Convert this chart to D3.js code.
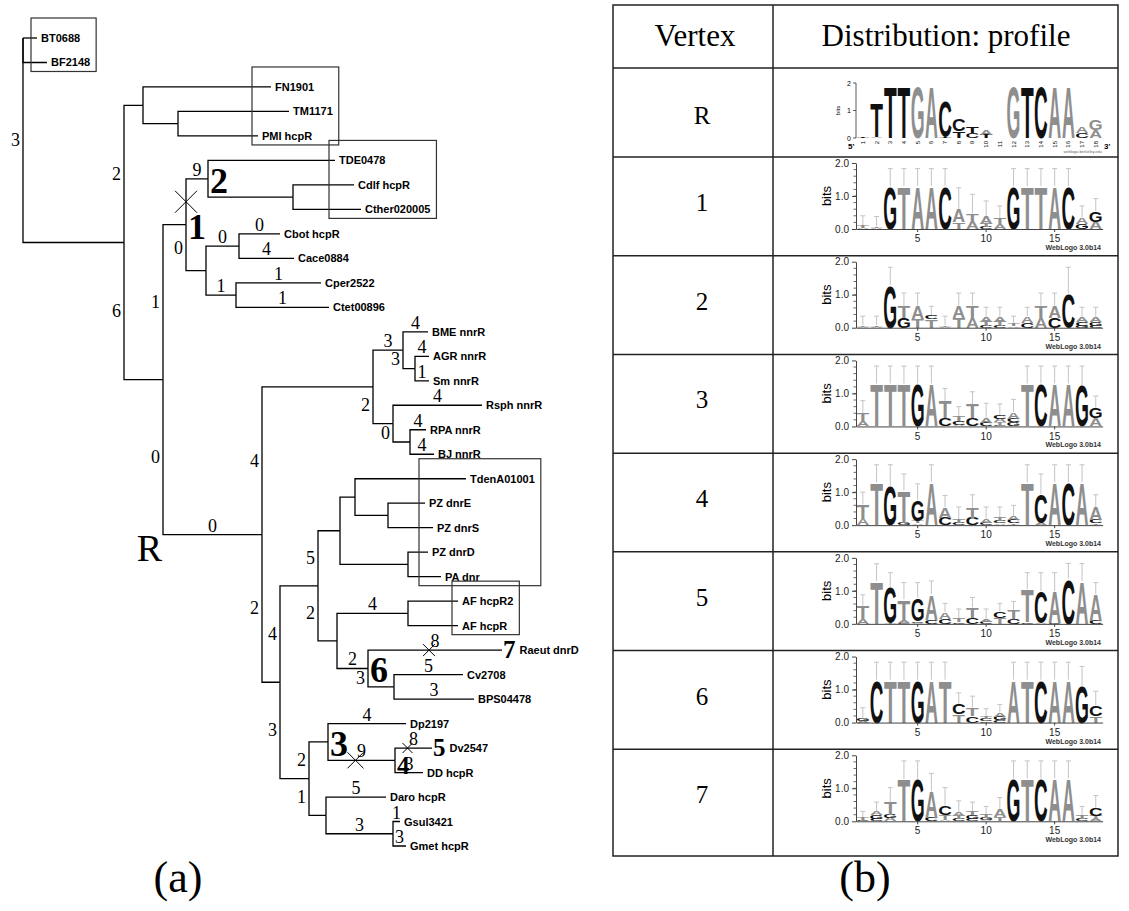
<!DOCTYPE html>
<html>
<head>
<meta charset="utf-8">
<script src="https://cdn.jsdelivr.net/npm/d3@7"></script>
<style>
  body { margin: 0; background: #fff; }
</style>
</head>
<body>
<svg id="fig" width="1129" height="911"></svg>
<script>
// ---------- tree data: [id, parent, branch length] ----------
var treeNodes = [
  ["root", null, 0],
  ["BT0688", "root", 3.5],
  ["BF2148", "root", 6],
  ["A", "root", 25.25],
  ["FNc", "A", 4.75],
  ["FN1901", "FNc", 32],
  ["TMc", "FNc", 8.75],
  ["TM1171", "TMc", 27.75],
  ["PMI hcpR", "TMc", 20],
  ["Rn", "A", 9.75],
  ["N1", "Rn", 5.75],
  ["N2", "N1", 5.5],
  ["TDE0478", "N2", 31.75],
  ["CdCt", "N2", 21.25],
  ["Cdlf hcpR", "CdCt", 15.25],
  ["Cther020005", "CdCt", 17],
  ["CC", "N1", 5],
  ["CbCa", "CC", 8.25],
  ["Cbot hcpR", "CbCa", 10.25],
  ["Cace0884", "CbCa", 13.75],
  ["CpCt", "CC", 7.5],
  ["Cper2522", "CpCt", 21.25],
  ["Ctet00896", "CpCt", 23.25],
  ["L", "Rn", 24.75],
  ["NN", "L", 27.75],
  ["BAS", "NN", 7.5],
  ["BME nnrR", "BAS", 6.25],
  ["AS", "BAS", 3],
  ["AGR nnrR", "AS", 3.5],
  ["Sm nnrR", "AS", 3.5],
  ["RRB", "NN", 5],
  ["Rsph nnrR", "RRB", 22.25],
  ["RB", "RRB", 4.25],
  ["RPA nnrR", "RB", 4],
  ["BJ nnrR", "RB", 6],
  ["M", "L", 4.5],
  ["D", "M", 9.5],
  ["Dn", "D", 5.5],
  ["Td", "Dn", 3.75],
  ["TdenA01001", "Td", 27.75],
  ["PZes", "Td", 8.25],
  ["PZ dnrE", "PZes", 9.25],
  ["PZ dnrS", "PZes", 11.25],
  ["PD", "Dn", 17],
  ["PZ dnrD", "PD", 5],
  ["PA dnr", "PD", 8.25],
  ["AFC6", "D", 4.75],
  ["AF", "AFC6", 17.75],
  ["AF hcpR2", "AF", 12.5],
  ["AF hcpR", "AF", 12.5],
  ["N6", "AFC6", 7.75],
  ["Raeut dnrD", "N6", 33.5],
  ["CB", "N6", 6.5],
  ["Cv2708", "CB", 17.25],
  ["BPS04478", "CB", 20],
  ["P", "M", 7.25],
  ["N3", "P", 4.75],
  ["Dp2197", "N3", 19.5],
  ["N4", "N3", 16.75],
  ["Dv2547", "N4", 9.25],
  ["DD hcpR", "N4", 7],
  ["DG", "P", 4.25],
  ["Daro hcpR", "DG", 15],
  ["GG", "DG", 16.75],
  ["Gsul3421", "GG", 1.75],
  ["Gmet hcpR", "GG", 3.25]
];

// labels on edges: [child id, "v" = on parent's vertical, "h" = above child's horizontal, text]
var edgeLabels = [
  ["A", "v", "3"], ["FNc", "v", "2"], ["Rn", "v", "6"], ["N1", "v", "1"],
  ["L", "v", "0"], ["L", "h", "0"], ["N2", "h", "9"], ["CC", "v", "0"],
  ["CbCa", "h", "0"], ["CpCt", "h", "1"], ["Cbot hcpR", "h", "0"], ["Cace0884", "h", "4"],
  ["Cper2522", "h", "1"], ["Ctet00896", "h", "1"], ["NN", "v", "4"], ["BAS", "h", "3"],
  ["BME nnrR", "h", "4"], ["AS", "v", "3"], ["AGR nnrR", "h", "4"], ["Sm nnrR", "h", "1"],
  ["RRB", "v", "2"], ["Rsph nnrR", "h", "4"], ["RB", "v", "0"], ["RPA nnrR", "h", "4"],
  ["BJ nnrR", "h", "4"], ["M", "v", "2"], ["D", "v", "4"], ["P", "v", "3"],
  ["Dn", "v", "5"], ["AFC6", "v", "2"], ["AF", "h", "4"], ["N6", "h", "2"],
  ["Raeut dnrD", "h", "8"], ["CB", "v", "3"], ["Cv2708", "h", "5"], ["BPS04478", "h", "3"],
  ["N3", "v", "2"], ["DG", "v", "1"], ["Dp2197", "h", "4"], ["N4", "h", "9"],
  ["Dv2547", "h", "8"], ["DD hcpR", "h", "3"], ["Daro hcpR", "h", "5"], ["GG", "h", "3"],
  ["Gsul3421", "h", "1"], ["Gmet hcpR", "h", "3"]
];

// crosses (lost sites): [child id, segment]
var crosses = [["N2", "v"], ["N4", "h"], ["Raeut dnrD", "h"], ["Dv2547", "h"]];
var crossSize = { "N2": 11, "N4": 8, "Raeut dnrD": 6, "Dv2547": 5 };

// vertex labels: [node id, text, placement]
var vertexLabels = [
  ["N1", "1", "node"], ["N2", "2", "node"], ["N6", "6", "node"], ["N3", "3", "node"],
  ["N4", "4", "node"], ["Dv2547", "5", "tip"], ["Raeut dnrD", "7", "tip"], ["L", "R", "corner"]
];

var boxGroups = [
  ["BT0688", "BF2148"], ["FN1901", "PMI hcpR"], ["TDE0478", "Cther020005"],
  ["TdenA01001", "PA dnr"], ["AF hcpR2", "AF hcpR"]
];

// ---------- logo data: per position, letters top to bottom [letter, bits] ----------
var logoR = [
  [["T", 0.03]], [["T", 1.25], ["A", 0.04]], [["T", 1.86]], [["T", 1.86]], [["G", 1.86]], [["A", 1.86]],
  [["C", 1.3], ["T", 0.05]], [["C", 0.45], ["T", 0.25]], [["T", 0.22], ["C", 0.2]], [["A", 0.2], ["T", 0.12]],
  [], [["G", 1.86]], [["T", 1.86]], [["C", 1.86]], [["A", 1.86]], [["A", 1.86]],
  [["A", 0.22], ["C", 0.2]], [["G", 0.36], ["A", 0.3]]
];
var logo1 = [
  [["T", 0.06], ["A", 0.04]], [["T", 0.05], ["A", 0.03]], [["G", 1.3]], [["T", 1.3]], [["A", 1.3]], [["A", 1.3]],
  [["C", 1.3]], [["A", 0.38], ["T", 0.2]], [["T", 0.25], ["A", 0.22]], [["A", 0.22], ["T", 0.1], ["C", 0.06]],
  [["T", 0.18], ["A", 0.14]], [["G", 1.3]], [["T", 1.3]], [["T", 1.3]], [["A", 1.3]], [["C", 1.3]],
  [["A", 0.2], ["G", 0.15]], [["G", 0.32], ["A", 0.22]]
];
var err1 = [0.4, 0.38, 1.83, 1.83, 1.83, 1.83, 1.83, 1.25, 1.05, 0.85, 0.7, 1.83, 1.83, 1.83, 1.83, 1.83, 0.7, 0.92];
var logo2 = [
  [["T", 0.05], ["A", 0.03]], [["T", 0.05], ["A", 0.03]], [["G", 1.3]], [["T", 0.36], ["G", 0.3]],
  [["A", 0.4], ["T", 0.27]], [["C", 0.12], ["T", 0.25]], [["T", 0.05], ["A", 0.03]], [["A", 0.37], ["T", 0.3]],
  [["T", 0.37], ["A", 0.3]], [["A", 0.15], ["T", 0.1], ["C", 0.08]], [["A", 0.15], ["T", 0.1], ["C", 0.08]],
  [["T", 0.06], ["A", 0.04]], [["A", 0.2], ["C", 0.15]], [["T", 0.37], ["A", 0.3]], [["A", 0.37], ["C", 0.3]],
  [["C", 1.05]], [["A", 0.15], ["C", 0.12], ["G", 0.06]], [["A", 0.15], ["G", 0.12], ["C", 0.06]]
];
var err2 = [0.35, 0.35, 1.83, 1.05, 1.05, 0.65, 0.35, 1.05, 1.05, 0.62, 0.62, 0.35, 0.62, 1.05, 1.05, 1.83, 0.62, 0.62];
var logo3 = [
  [["T", 0.25], ["A", 0.15]], [["T", 1.3]], [["T", 1.3]], [["T", 1.3]], [["G", 1.3]], [["A", 1.3]],
  [["T", 0.5], ["C", 0.25]], [["T", 0.15], ["C", 0.1], ["A", 0.05]], [["T", 0.42], ["C", 0.25]],
  [["A", 0.15], ["C", 0.1]], [["C", 0.12], ["A", 0.1], ["T", 0.08], ["G", 0.05]], [["A", 0.2], ["C", 0.12], ["G", 0.12]],
  [["T", 1.3]], [["C", 1.3]], [["A", 1.3]], [["A", 1.3]], [["G", 1.25]], [["G", 0.3], ["A", 0.25]]
];
var err3 = [0.78, 1.83, 1.83, 1.83, 1.83, 1.83, 1.15, 0.6, 1.05, 0.7, 0.68, 0.82, 1.83, 1.83, 1.83, 1.83, 1.83, 0.92];
var logo4 = [
  [["T", 0.45], ["A", 0.18]], [["T", 1.3]], [["G", 1.2]], [["T", 0.98], ["G", 0.08]],
  [["G", 0.62], ["T", 0.08], ["A", 0.05]], [["A", 1.3]], [["A", 0.32], ["C", 0.22]], [["T", 0.1], ["C", 0.06]],
  [["T", 0.3], ["C", 0.22]], [["A", 0.12], ["C", 0.08]], [["T", 0.1], ["C", 0.08], ["A", 0.05]],
  [["A", 0.12], ["C", 0.1], ["T", 0.05]], [["T", 1.3]], [["C", 0.88], ["A", 0.06]], [["A", 1.3]], [["C", 1.3]],
  [["A", 1.3]], [["A", 0.38], ["C", 0.1], ["T", 0.05]]
];
var err4 = [1.0, 1.83, 1.83, 1.55, 1.25, 1.83, 0.9, 0.55, 0.92, 0.55, 0.55, 0.6, 1.83, 1.55, 1.83, 1.83, 1.83, 0.92];
var logo5 = [
  [["T", 0.4], ["A", 0.15]], [["T", 1.3]], [["G", 1.08], ["T", 0.04]], [["T", 0.65], ["A", 0.06], ["G", 0.04]],
  [["G", 0.7], ["C", 0.05], ["A", 0.04]], [["A", 0.78], ["C", 0.12]], [["A", 0.2], ["C", 0.15]], [["T", 0.1], ["C", 0.05]],
  [["T", 0.32], ["C", 0.18]], [["A", 0.08], ["C", 0.06]], [["C", 0.2], ["T", 0.18]], [["T", 0.28], ["C", 0.14]],
  [["T", 1.0], ["C", 0.05]], [["C", 0.95], ["A", 0.04]], [["A", 0.95], ["C", 0.04]], [["C", 1.38]], [["A", 1.3]],
  [["A", 0.8], ["C", 0.1]]
];
var err5 = [0.88, 1.82, 1.55, 1.25, 1.25, 1.3, 0.62, 0.45, 0.8, 0.45, 0.62, 0.68, 1.55, 1.55, 1.55, 1.83, 1.83, 1.25];
var logo6 = [
  [["G", 0.08], ["A", 0.06]], [["C", 1.3]], [["T", 1.3]], [["T", 1.3]], [["G", 1.3]], [["A", 1.3]], [["T", 1.3]],
  [["C", 0.3], ["T", 0.25]], [["T", 0.25], ["C", 0.2]], [["T", 0.08], ["C", 0.06], ["G", 0.05]],
  [["A", 0.12], ["G", 0.1], ["C", 0.08]], [["A", 1.3]], [["T", 1.3]], [["C", 1.3]], [["A", 1.3]], [["A", 1.3]],
  [["G", 1.12]], [["C", 0.32], ["T", 0.2]]
];
var err6 = [0.45, 1.83, 1.83, 1.83, 1.83, 1.83, 1.83, 0.9, 0.8, 0.42, 0.55, 1.83, 1.83, 1.83, 1.83, 1.83, 1.7, 0.95];
var logo7 = [
  [["T", 0.06], ["C", 0.04]], [["A", 0.1], ["G", 0.1], ["C", 0.08]], [["T", 0.38], ["G", 0.1], ["A", 0.1]],
  [["T", 1.28]], [["G", 1.28]], [["A", 0.8], ["C", 0.1]], [["C", 0.28], ["T", 0.15], ["A", 0.05]],
  [["A", 0.1], ["T", 0.1], ["C", 0.06]], [["T", 0.12], ["G", 0.1], ["C", 0.08]], [["T", 0.1], ["G", 0.06], ["A", 0.04]],
  [["A", 0.25], ["T", 0.12]], [["G", 1.3]], [["T", 1.3]], [["C", 1.3]], [["A", 1.3]], [["A", 1.3]],
  [["T", 0.1], ["C", 0.06]], [["C", 0.25], ["T", 0.1], ["A", 0.06]]
];
var err7 = [0.3, 0.58, 1.02, 1.83, 1.83, 1.45, 1.02, 0.62, 0.58, 0.45, 0.72, 1.83, 1.83, 1.83, 1.83, 1.83, 0.45, 0.78];

var rowNames = ["1", "2", "3", "4", "5", "6", "7"];
var rowLogos = [logo1, logo2, logo3, logo4, logo5, logo6, logo7];
var rowErrs = [err1, err2, err3, err4, err5, err6, err7];
var positions = d3.range(1, 19);
var headers = ["Vertex", "Distribution: profile"];
var captions = ["(a)", "(b)"];

// ---------- styles ----------
var SERIF = "'Liberation Serif','Times New Roman',serif";
var SANS = "'Liberation Sans',Arial,Helvetica,sans-serif";
var GRAY = "#8e8e8e";
var colorsR = { A: GRAY, G: GRAY, T: "#111", C: "#111" };
var colorsN = { A: GRAY, T: GRAY, G: "#111", C: "#111" };
var inkW = { A: 0.70, C: 0.66, G: 0.70, T: 0.60 };

var svg = d3.select("#fig");

// ================= (a) tree =================
var tree = d3.stratify().id(function (d) { return d[0]; }).parentId(function (d) { return d[1]; })(treeNodes);
tree.eachBefore(function (n) { n.len = n.parent ? n.parent.len + n.data[2] : 0; });
var leaves = tree.leaves();
var yLeaf = d3.scaleLinear().domain([0, leaves.length - 1]).range([38, 846]);
var xLen = d3.scaleLinear().domain([0, 120]).range([23, 503]);
leaves.forEach(function (n, i) { n.py = yLeaf(i); });
tree.eachAfter(function (n) {
  if (n.children) n.py = (n.children[0].py + n.children[n.children.length - 1].py) / 2;
});
tree.py = tree.children[0].py;
tree.each(function (n) { n.px = xLen(n.len); });
var byId = {};
tree.each(function (n) { byId[n.id] = n; });

var gt = svg.append("g").attr("class", "tree");

gt.selectAll("path.edge")
  .data(tree.descendants().filter(function (n) { return n.parent; }))
  .enter().append("path")
  .attr("class", "edge")
  .attr("fill", "none")
  .attr("stroke", "#000")
  .attr("stroke-width", 1.3)
  .attr("d", function (n) { return "M" + n.parent.px + "," + n.parent.py + "V" + n.py + "H" + n.px; });

// vertex labels
var tipOffset = {};
vertexLabels.forEach(function (v) {
  var n = byId[v[0]];
  var t;
  if (v[2] === "node") {
    var small = n.children.every(function (c) { return !c.children; });
    t = gt.append("text").attr("x", n.px + 2).attr("y", n.py + 14)
      .attr("font-size", small ? 25 : 36);
  } else if (v[2] === "tip") {
    t = gt.append("text").attr("x", n.px + 1).attr("y", n.py + 8).attr("font-size", 25);
  } else {
    t = gt.append("text").attr("x", n.parent.px - 1).attr("y", n.py + 26)
      .attr("text-anchor", "end").attr("font-size", 38);
  }
  t.text(v[1]).attr("font-family", SERIF).attr("font-weight", v[2] === "corner" ? "normal" : "bold");
  if (v[2] === "tip") tipOffset[n.id] = t.node().getComputedTextLength() + 1;
});

// leaf names
var leafText = {};
leaves.forEach(function (n) {
  var t = gt.append("text")
    .attr("x", n.px + 4 + (tipOffset[n.id] || 0))
    .attr("y", n.py + 4)
    .attr("font-family", SANS)
    .attr("font-weight", "bold")
    .attr("font-size", 11)
    .text(n.id);
  leafText[n.id] = t;
});

// edge numbers
edgeLabels.forEach(function (e) {
  var n = byId[e[0]];
  var t = gt.append("text").attr("font-family", SERIF).attr("font-size", 18).text(e[2]);
  if (e[1] === "v") {
    t.attr("x", n.parent.px - 3).attr("y", (n.parent.py + n.py) / 2 + 6).attr("text-anchor", "end");
  } else {
    t.attr("x", (n.parent.px + n.px) / 2).attr("y", n.py - 3).attr("text-anchor", "middle");
  }
});

// crosses
crosses.forEach(function (c) {
  var n = byId[c[0]], s = crossSize[c[0]];
  var cx, cy;
  if (c[1] === "v") { cx = n.parent.px; cy = (n.parent.py + n.py) / 2; }
  else { cx = (n.parent.px + n.px) / 2 - 6; cy = n.py; }
  gt.append("path")
    .attr("d", "M" + (cx - s) + "," + (cy - s) + "L" + (cx + s) + "," + (cy + s) +
               "M" + (cx - s) + "," + (cy + s) + "L" + (cx + s) + "," + (cy - s))
    .attr("stroke", "#000").attr("stroke-width", 1);
});

// boxes around leaf groups
boxGroups.forEach(function (b) {
  var i0 = leaves.indexOf(byId[b[0]]), i1 = leaves.indexOf(byId[b[1]]);
  var grp = leaves.slice(i0, i1 + 1);
  var x0 = d3.min(grp, function (n) { return +leafText[n.id].attr("x"); }) - 10;
  var x1 = d3.max(grp, function (n) {
    return +leafText[n.id].attr("x") + leafText[n.id].node().getComputedTextLength();
  }) + 6;
  var y0 = grp[0].py - 20, y1 = grp[grp.length - 1].py + 9;
  gt.append("rect").attr("x", x0).attr("y", y0).attr("width", x1 - x0).attr("height", y1 - y0)
    .attr("fill", "none").attr("stroke", "#333").attr("stroke-width", 1.2);
});

// ================= (b) table =================
var T = { left: 613, right: 1118, top: 5, bottom: 856, split: 773, head: 68, rRow: 157 };
var gb = svg.append("g").attr("class", "table");
var lineStyle = function (sel) { return sel.attr("stroke", "#222").attr("stroke-width", 1.5); };

// equal bands for rows 1..7; the last row runs on to the bottom border
var rowBand = d3.scaleBand().domain(rowNames).range([T.rRow, T.bottom - 8]);

lineStyle(gb.append("rect").attr("x", T.left).attr("y", T.top)
  .attr("width", T.right - T.left).attr("height", T.bottom - T.top).attr("fill", "none"));
lineStyle(gb.append("line").attr("x1", T.split).attr("x2", T.split).attr("y1", T.top).attr("y2", T.bottom));
[T.head, T.rRow].concat(rowNames.slice(1).map(function (r) { return rowBand(r); })).forEach(function (y) {
  lineStyle(gb.append("line").attr("x1", T.left).attr("x2", T.right).attr("y1", y).attr("y2", y));
});

gb.selectAll("text.head").data(headers).enter().append("text")
  .attr("class", "head")
  .attr("x", function (d, i) { return i === 0 ? 695 : 946; })
  .attr("y", 46)
  .attr("text-anchor", "middle")
  .attr("font-family", SERIF)
  .attr("font-size", 31)
  .text(function (d) { return d; });

var xPos = d3.scaleBand().domain(positions).range([856, 856 + 18 * 13.7]);

function drawStack(g, col, cx, base, ppb, colors) {
  var y = base;
  var w = xPos.bandwidth() - 1.2;
  col.slice().reverse().forEach(function (l) {
    var hp = l[1] * ppb;
    if (hp >= 0.5) {
      g.append("text").text(l[0])
        .attr("transform", "translate(" + cx + "," + y + ") scale(" + (w / (inkW[l[0]] * 100)) + "," + (hp / 71.6) + ")")
        .attr("text-anchor", "middle")
        .attr("font-family", SANS)
        .attr("font-weight", "bold")
        .attr("font-size", 100)
        .attr("fill", colors[l[0]]);
    }
    y -= hp;
  });
  return y;
}

// row R logo (older WebLogo style)
(function () {
  var base = 138, ppb = 27.5;
  var g = gb.append("g");
  var yb = d3.scaleLinear().domain([0, 2]).range([base, base - 2 * ppb]);
  g.append("line").attr("x1", 856).attr("x2", 856).attr("y1", yb(0)).attr("y2", yb(2))
    .attr("stroke", "#333").attr("stroke-width", 0.8);
  [0, 1, 2].forEach(function (v) {
    g.append("line").attr("x1", 853).attr("x2", 856).attr("y1", yb(v)).attr("y2", yb(v))
      .attr("stroke", "#333").attr("stroke-width", 0.8);
    g.append("text").attr("x", 851).attr("y", yb(v) + 2.5).attr("text-anchor", "end")
      .attr("font-family", SANS).attr("font-size", 7).text(v);
  });
  g.append("text").attr("transform", "translate(840," + yb(1) + ") rotate(-90)")
    .attr("text-anchor", "middle").attr("font-family", SANS).attr("font-size", 6).text("bits");
  g.append("text").attr("x", 848).attr("y", base + 11).attr("font-family", SANS)
    .attr("font-size", 8).attr("font-weight", "bold").text("5'");
  g.append("text").attr("x", 1104).attr("y", base + 11).attr("font-family", SANS)
    .attr("font-size", 8).attr("font-weight", "bold").text("3'");
  positions.forEach(function (p, i) {
    var cx = xPos(p) + xPos.bandwidth() / 2;
    g.append("text").attr("transform", "translate(" + (cx + 2) + "," + (base + 3) + ") rotate(-90)")
      .attr("text-anchor", "end").attr("font-family", SANS).attr("font-size", 6).text(p);
    drawStack(g, logoR[i], cx, base, ppb, colorsR);
  });
  g.append("text").attr("x", 1102).attr("y", 153).attr("text-anchor", "end")
    .attr("font-family", SANS).attr("font-size", 4).attr("fill", "#666").text("weblogo.berkeley.edu");
  gb.append("text").attr("x", 702).attr("y", 124).attr("text-anchor", "middle")
    .attr("font-family", SERIF).attr("font-size", 25).text("R");
})();

// rows 1..7 (WebLogo 3 style)
rowNames.forEach(function (r, ri) {
  var base = rowBand(r) + 72, ppb = 33;
  var g = gb.append("g");
  var yb = d3.scaleLinear().domain([0, 2]).range([base, base - 2 * ppb]);

  // error bars
  positions.forEach(function (p, i) {
    var cx = xPos(p) + xPos.bandwidth() / 2;
    var top = d3.sum(rowLogos[ri][i], function (l) { return l[1]; });
    g.append("path")
      .attr("d", "M" + cx + "," + yb(top) + "V" + yb(rowErrs[ri][i]) + "M" + (cx - 2.5) + "," + yb(rowErrs[ri][i]) + "H" + (cx + 2.5))
      .attr("stroke", "#c4c4c4").attr("stroke-width", 1).attr("fill", "none");
  });
  positions.forEach(function (p, i) {
    drawStack(g, rowLogos[ri][i], xPos(p) + xPos.bandwidth() / 2, base, ppb, colorsN);
  });

  var ya = d3.axisLeft(yb).tickValues([0, 1, 2]).tickFormat(d3.format(".1f")).tickSize(4).tickSizeOuter(0);
  var ga = g.append("g").attr("transform", "translate(856,0)").call(ya);
  ga.selectAll("text").attr("font-family", SANS).attr("font-size", 10).attr("fill", "#222");
  ga.selectAll("line, path").attr("stroke", "#444");
  d3.range(0.2, 2, 0.2).forEach(function (v) {
    g.append("line").attr("x1", 853.5).attr("x2", 856).attr("y1", yb(v)).attr("y2", yb(v))
      .attr("stroke", "#444").attr("stroke-width", 0.8);
  });
  var xa = d3.axisBottom(xPos).tickValues([5, 10, 15]).tickSize(3).tickSizeOuter(0);
  var gx = g.append("g").attr("transform", "translate(0," + base + ")").call(xa);
  gx.selectAll("text").attr("font-family", SANS).attr("font-size", 10).attr("fill", "#222");
  gx.selectAll("line, path").attr("stroke", "#444");

  g.append("text").attr("transform", "translate(831," + yb(1) + ") rotate(-90)")
    .attr("text-anchor", "middle").attr("font-family", SANS).attr("font-size", 13).text("bits");
  g.append("text").attr("x", 1101).attr("y", base + 21).attr("text-anchor", "end")
    .attr("font-family", SANS).attr("font-size", 7).attr("font-weight", "bold").attr("fill", "#333")
    .text("WebLogo 3.0b14");

  gb.append("text").attr("x", 702).attr("y", base - 18).attr("text-anchor", "middle")
    .attr("font-family", SERIF).attr("font-size", 25).text(r);
});

// captions
svg.selectAll("text.cap").data(captions).enter().append("text")
  .attr("class", "cap")
  .attr("x", function (d, i) { return i === 0 ? 178 : 865; })
  .attr("y", 892)
  .attr("text-anchor", "middle")
  .attr("font-family", SERIF)
  .attr("font-size", 44)
  .text(function (d) { return d; });
</script>
</body>
</html>
